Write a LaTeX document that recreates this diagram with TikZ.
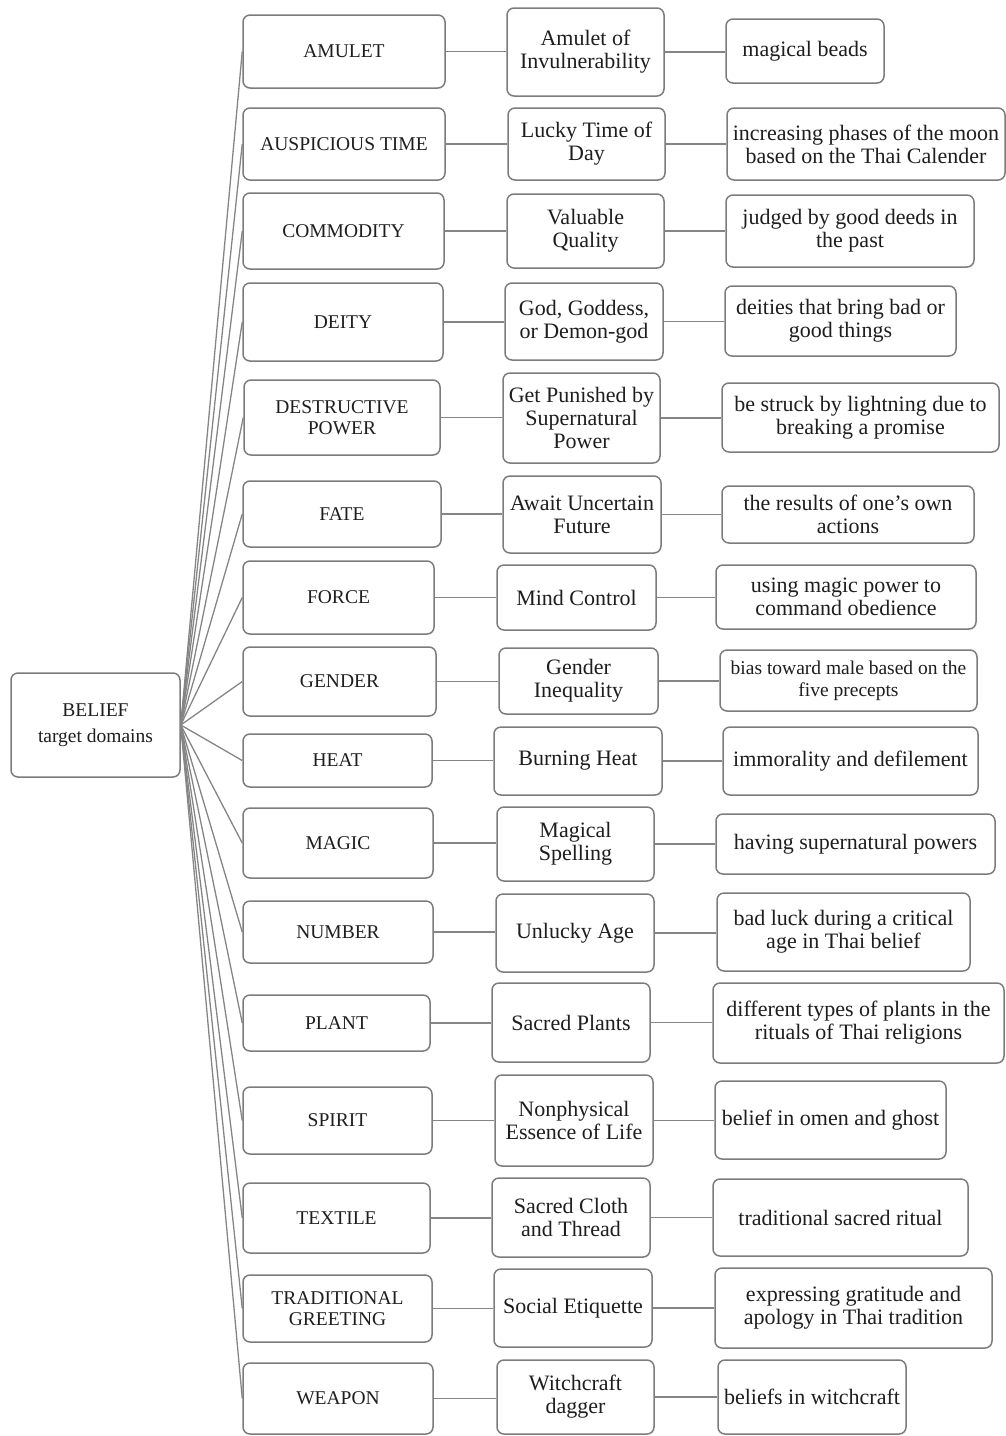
\documentclass[tikz,border=0pt]{standalone}
\usepackage{fontspec}
\setmainfont{Liberation Serif}
\definecolor{edgegrey}{HTML}{7C7C7C}
\definecolor{linkgrey}{HTML}{858585}
\definecolor{inkdark}{HTML}{1E1E1E}

% \bx{style}{name}{x1}{y1}{x2}{y2}{text}: a box given by its corners
\newcommand\bx[7]{%
  \node[#1, minimum width={#5-#3}, minimum height={#6-#4}]
    (#2) at ({(#3+#5)/2},{(#4+#6)/2}) {#7};}

\begin{document}
\begin{tikzpicture}[x=1pt,y=-1pt,
  box/.style={draw=edgegrey, line width=1.5pt, rounded corners=7pt,
    align=center, inner sep=2pt, text=inkdark, fill=white},
  dom/.style={box, font=\fontsize{19.5}{21}\selectfont},
  mid/.style={box, font=\fontsize{22}{23}\selectfont},
  desc/.style={box, font=\fontsize{22}{23}\selectfont},
  small/.style={box, font=\fontsize{19.5}{22}\selectfont},
  link/.style={draw=linkgrey, line width=1.3pt}]

\useasboundingbox (0,0) rectangle (1006,1436);

% root
\bx{box, font=\fontsize{19.5}{26}\selectfont}{root}{11}{673}{180}{777}{BELIEF\\target domains}

% target domains
\bx{dom}{d1}{243}{15}{445}{88}{AMULET}
\bx{dom}{d2}{243}{108}{445}{180}{AUSPICIOUS TIME}
\bx{dom}{d3}{243}{193}{444}{269}{COMMODITY}
\bx{dom}{d4}{243}{283}{443}{361}{DEITY}
\bx{dom}{d5}{244}{380}{440}{455}{DESTRUCTIVE\\POWER}
\bx{dom}{d6}{243}{481}{441}{547}{FATE}
\bx{dom}{d7}{243}{561}{434}{634}{FORCE}
\bx{dom}{d8}{243}{647}{436}{716}{GENDER}
\bx{dom}{d9}{243}{734}{432}{787}{HEAT}
\bx{dom}{d10}{243}{808}{433}{878}{MAGIC}
\bx{dom}{d11}{243}{901}{433}{963}{NUMBER}
\bx{dom}{d12}{243}{995}{430}{1051}{PLANT}
\bx{dom}{d13}{243}{1087}{432}{1154}{SPIRIT}
\bx{dom}{d14}{243}{1183}{430}{1253}{TEXTILE}
\bx{dom}{d15}{243}{1275}{432}{1342}{TRADITIONAL\\GREETING}
\bx{dom}{d16}{243}{1363}{433}{1434}{WEAPON}

% metaphors
\bx{mid}{m1}{507}{8}{664}{96}{Amulet of\\Invulnerability}
\bx{mid}{m2}{508}{108}{665}{180}{Lucky Time of\\Day}
\bx{mid}{m3}{507}{194}{664}{268}{Valuable\\Quality}
\bx{mid}{m4}{505}{283}{663}{360}{God, Goddess,\\or Demon-god}
\bx{mid}{m5}{503}{373}{660}{463}{Get Punished by\\Supernatural\\Power}
\bx{mid}{m6}{503}{476}{661}{553}{Await Uncertain\\Future}
\bx{mid}{m7}{497}{565}{656}{630}{Mind Control}
\bx{mid}{m8}{499}{648}{658}{714}{Gender\\Inequality}
\bx{mid}{m9}{494}{727}{662}{795}{Burning Heat}
\bx{mid}{m10}{497}{807}{654}{881}{Magical\\Spelling}
\bx{mid}{m11}{496}{894}{654}{972}{Unlucky Age}
\bx{mid}{m12}{492}{983}{650}{1062}{Sacred Plants}
\bx{mid}{m13}{495}{1075}{653}{1166}{Nonphysical\\Essence of Life}
\bx{mid}{m14}{492}{1178}{650}{1257}{Sacred Cloth\\and Thread}
\bx{mid}{m15}{494}{1269}{652}{1347}{Social Etiquette}
\bx{mid}{m16}{497}{1360}{654}{1434}{Witchcraft\\dagger}

% descriptions
\bx{desc}{e1}{726}{19}{884}{83}{magical beads}
\bx{desc}{e2}{727}{108}{1005}{180}{increasing phases of the moon\\based on the Thai Calender}
\bx{desc}{e3}{726}{195}{974}{267}{judged by good deeds in\\the past}
\bx{desc}{e4}{725}{286}{956}{356}{deities that bring bad or\\good things}
\bx{desc}{e5}{722}{383}{999}{452}{be struck by lightning due to\\breaking a promise}
\bx{desc}{e6}{722}{486}{974}{543}{the results of one's own\\actions}
\bx{desc}{e7}{716}{565}{976}{629}{using magic power to\\command obedience}
\bx{small}{e8}{720}{650}{977}{711}{bias toward male based on the\\five precepts}
\bx{desc}{e9}{723}{727}{978}{795}{immorality and defilement}
\bx{desc}{e10}{716}{814}{995}{874}{having supernatural powers}
\bx{desc}{e11}{717}{893}{970}{971}{bad luck during a critical\\age in Thai belief}
\bx{desc}{e12}{713}{983}{1004}{1063}{different types of plants in the\\rituals of Thai religions}
\bx{desc}{e13}{715}{1081}{946}{1159}{belief in omen and ghost}
\bx{desc}{e14}{713}{1179}{968}{1256}{traditional sacred ritual}
\bx{desc}{e15}{715}{1268}{992}{1348}{expressing gratitude and\\apology in Thai tradition}
\bx{desc}{e16}{718}{1360}{906}{1434}{beliefs in witchcraft}

% spokes from the root, then the two horizontal links of each row
\foreach \i in {1,...,16}{
  \draw[link] (root.east) -- (d\i.west);
  \draw[link] (d\i.east) -- (d\i.east -| m\i.west);
  \draw[link] (m\i.east) -- (m\i.east -| e\i.west);
}
\end{tikzpicture}
\end{document}
